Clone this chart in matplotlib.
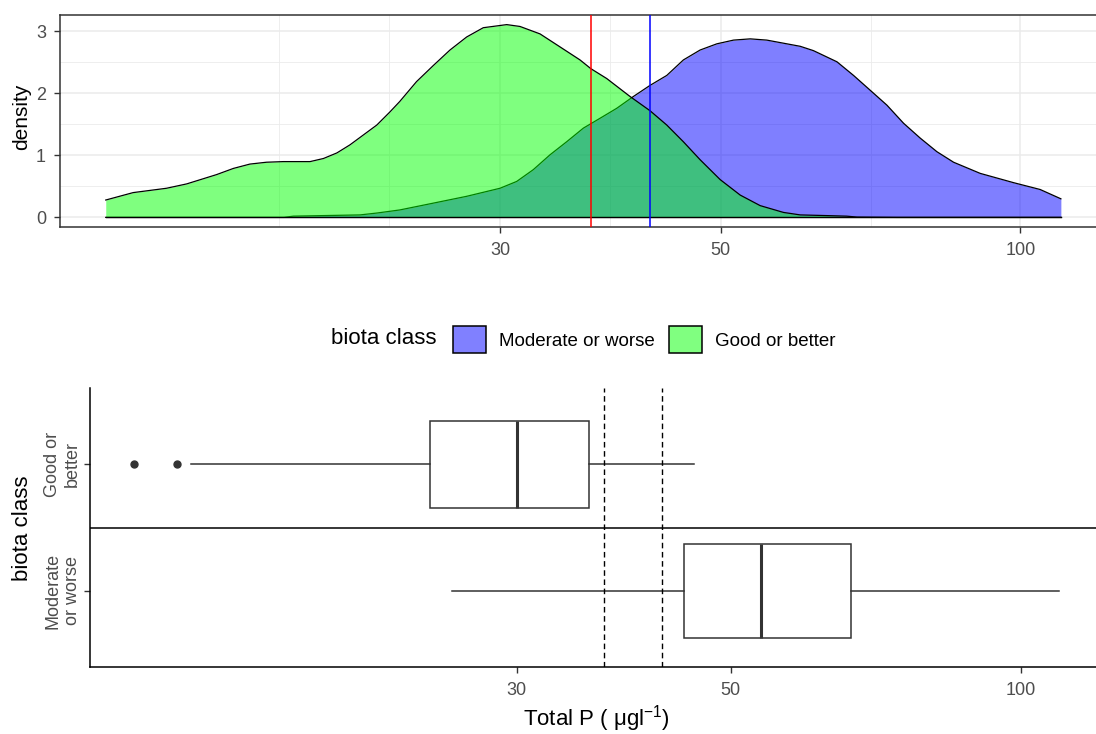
import matplotlib
matplotlib.use("Agg")
import matplotlib.pyplot as plt
from matplotlib.patches import Patch
from matplotlib.ticker import FixedLocator, NullFormatter

plt.rcParams['font.family'] = ['Liberation Sans', 'DejaVu Sans']
plt.rcParams['mathtext.fontset'] = 'custom'
plt.rcParams['mathtext.rm'] = 'Liberation Sans'
plt.rcParams['mathtext.default'] = 'regular'

# density of Total P (ug/l) for each biota class
good_tp = [12.05, 12.84, 13.87, 14.53, 15.57, 16.19, 16.82, 17.48, 18.17, 19.33,
           19.94, 20.57, 21.20, 21.87, 22.56, 23.25, 23.79, 24.73, 25.71, 26.72,
           27.77, 28.86, 30.47, 31.42, 32.91, 34.47, 36.10, 37.01, 38.40, 40.53,
           42.45, 44.12, 45.85, 47.66, 49.92, 52.29, 54.76, 57.80, 60.08, 63.5,
           66.9, 68.5, 75.0, 109.8]
good_dens = [0.28, 0.40, 0.47, 0.54, 0.69, 0.79, 0.86, 0.89, 0.90, 0.90,
             0.95, 1.04, 1.17, 1.33, 1.49, 1.70, 1.87, 2.19, 2.45, 2.70,
             2.91, 3.06, 3.11, 3.08, 2.96, 2.75, 2.54, 2.40, 2.24, 1.95,
             1.72, 1.49, 1.22, 0.93, 0.61, 0.36, 0.19, 0.08, 0.04, 0.03,
             0.02, 0.005, 0.0, 0.0]

mod_tp = [12.05, 18.2, 18.6, 21.70, 22.56, 23.79, 25.71, 27.77, 30.00, 31.18,
          32.40, 33.68, 35.00, 36.38, 37.82, 39.30, 40.84, 42.45, 44.12, 45.85,
          47.66, 49.54, 51.49, 53.52, 55.61, 57.80, 60.08, 61.95, 65.41, 67.97,
          70.65, 73.43, 76.29, 79.29, 82.42, 85.66, 91.11, 98.43, 104.66, 109.8]
mod_dens = [0.0, 0.0, 0.02, 0.04, 0.07, 0.12, 0.23, 0.34, 0.47, 0.58,
            0.77, 1.01, 1.22, 1.44, 1.60, 1.76, 1.95, 2.13, 2.29, 2.54,
            2.70, 2.80, 2.86, 2.88, 2.86, 2.81, 2.76, 2.69, 2.51, 2.29,
            2.05, 1.81, 1.52, 1.28, 1.06, 0.89, 0.71, 0.56, 0.45, 0.30]

# class boundaries
boundary_lo = 37.0
boundary_hi = 42.4

classes = ["Moderate or worse", "Good or better"]
class_ticks = ["Moderate\nor worse", "Good or\nbetter"]

# box summaries: whisker low, q1, median, q3, whisker high
mod_box = [25.7, 44.7, 53.7, 66.6, 109.6]
mod_out = []
good_box = [13.8, 24.4, 30.0, 35.7, 45.8]
good_out = [12.03, 13.34]

x_ticks = [30, 50, 100]
x_minor = [18.0, 23.2, 38.7, 70.7]
x_lim = (10.84, 121.6)

W, H = 1096, 734
fig = plt.figure(figsize=(W / 100, H / 100), dpi=100)


def px_rect(x0, y0, x1, y1):
    return [x0 / W, 1 - y1 / H, (x1 - x0) / W, (y1 - y0) / H]


ax1 = fig.add_axes(px_rect(60, 15, 1105, 227))
ax2 = fig.add_axes(px_rect(90, 388, 1103, 667))

# ---- top: densities ----
ax1.set_xscale('log')
ax1.fill_between(mod_tp, mod_dens, color='blue', alpha=0.5, lw=0, zorder=2)
ax1.plot(mod_tp, mod_dens, color='black', lw=0.9, zorder=2.1)
ax1.plot([mod_tp[0], mod_tp[-1]], [0, 0], color='black', lw=0.9, zorder=2.1)
ax1.fill_between(good_tp, good_dens, color='#00FF00', alpha=0.5, lw=0, zorder=3)
ax1.plot(good_tp, good_dens, color='black', lw=0.9, zorder=3.1)
ax1.plot([good_tp[0], good_tp[-1]], [0, 0], color='black', lw=0.9, zorder=3.1)
ax1.axvline(boundary_lo, color='red', lw=1.1, zorder=4)
ax1.axvline(boundary_hi, color='blue', lw=1.1, zorder=4)

ax1.set_xlim(x_lim)
ax1.set_ylim(-0.155, 3.265)
ax1.set_xticks(x_ticks, labels=[str(t) for t in x_ticks])
ax1.xaxis.set_minor_locator(FixedLocator(x_minor))
ax1.xaxis.set_minor_formatter(NullFormatter())
ax1.set_yticks([0, 1, 2, 3])
ax1.set_yticks([0.5, 1.5, 2.5], minor=True)
ax1.set_axisbelow(True)
ax1.grid(which='major', color='#EBEBEB', lw=1.1)
ax1.grid(which='minor', color='#EBEBEB', lw=0.6)
ax1.tick_params(which='minor', length=0)
ax1.tick_params(which='major', length=4, width=1, color='#333333',
                labelcolor='#4D4D4D', labelsize=13)
ax1.tick_params(axis='x', pad=7)
ax1.tick_params(axis='y', pad=6)
for s in ax1.spines.values():
    s.set_color('#333333')
    s.set_linewidth(1.1)
ax1.set_ylabel('density', fontsize=15, va='center')
ax1.yaxis.set_label_coords((21.5 - 60) / 1045, (227 - 117) / 212)

# ---- legend ----
fig.text(331 / W, 1 - 339 / H, 'biota class', ha='left', va='center', fontsize=16)
handles = [Patch(facecolor=(0.5, 0.5, 1.0), edgecolor='black', lw=1.1),
           Patch(facecolor=(0.5, 1.0, 0.5), edgecolor='black', lw=1.1)]
fs = 13.5 * 100 / 72
fig.legend(handles, classes, loc='center left', bbox_to_anchor=(453 / W, 1 - 339.5 / H),
           ncol=2, frameon=False, fontsize=13.5, borderpad=0, borderaxespad=0,
           handlelength=33 / fs, handleheight=35 / fs, handletextpad=13 / fs,
           columnspacing=14 / fs)

# ---- bottom: boxplots ----
ax2.set_xscale('log')
stats = []
for lab, b, out in zip(classes, [mod_box, good_box], [mod_out, good_out]):
    stats.append(dict(label=lab, whislo=b[0], q1=b[1], med=b[2], q3=b[3],
                      whishi=b[4], fliers=out))
ax2.bxp(stats, positions=[1, 2], widths=[0.744, 0.686], orientation='horizontal',
        patch_artist=True, showcaps=False,
        boxprops=dict(facecolor='white', edgecolor='#333333', linewidth=1.1),
        whiskerprops=dict(color='#333333', linewidth=1.1),
        medianprops=dict(color='#333333', linewidth=2.2),
        flierprops=dict(marker='o', markerfacecolor='#333333',
                        markeredgecolor='#333333', markersize=5))
ax2.axhline(1.5, color='black', lw=1.1)
for v in (boundary_lo, boundary_hi):
    ax2.axvline(v, color='black', lw=1.0, ls=(0, (4, 2.6)))

ax2.set_xlim(x_lim)
ax2.set_ylim(0.4, 2.6)
ax2.set_xticks(x_ticks, labels=[str(t) for t in x_ticks])
ax2.xaxis.set_minor_locator(FixedLocator([]))
ax2.set_yticks([1, 2], labels=class_ticks, rotation=90, va='center', ha='right',
               multialignment='center')
ax2.tick_params(length=4, width=1, color='#333333', labelcolor='#4D4D4D',
                labelsize=13)
ax2.tick_params(axis='x', pad=7)
ax2.tick_params(axis='y', pad=2.5)
ax2.spines['top'].set_visible(False)
ax2.spines['right'].set_visible(False)
for s in ('left', 'bottom'):
    ax2.spines[s].set_color('black')
    ax2.spines[s].set_linewidth(1.1)
ax2.set_xlabel('Total P ( μgl$^{-1}$)', fontsize=16, va='center')
ax2.xaxis.set_label_coords(0.5, (667 - 719) / 279)
ax2.set_ylabel('biota class', fontsize=16, va='center')
ax2.yaxis.set_label_coords((22.5 - 90) / 1013, (667 - 528) / 279)

fig.savefig('out.png', dpi=100)
